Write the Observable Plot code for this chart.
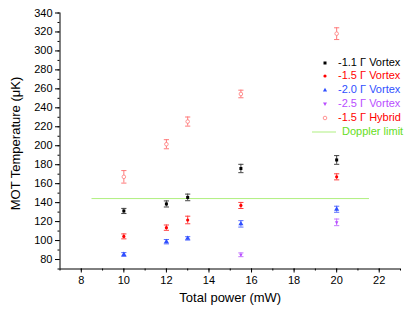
<!DOCTYPE html>
<html>
<head>
<meta charset="utf-8">
<script src="https://cdn.jsdelivr.net/npm/d3@7"></script>
<script src="https://cdn.jsdelivr.net/npm/@observablehq/plot@0.6"></script>
<style>
  html, body { margin: 0; padding: 0; background: #fff; }
  #wrap { position: relative; width: 407px; height: 312px; font-family: "Liberation Sans", Arial, sans-serif; }
  #legend { position: absolute; left: 318px; top: 55.5px; font-size: 11px; line-height: 13.9px; }
  .row { display: flex; align-items: center; height: 13.9px; white-space: nowrap; }
  .sym { width: 20px; height: 13.9px; display: inline-block; }
</style>
</head>
<body>
<div id="wrap"><div id="chart"></div><div id="legend"></div></div>
<script>
// ---- data ----
const powers = [10, 12, 13, 15.5, 20];
const powers25 = [15.5, 20];
const vortex11 = [131.2, 138.6, 145.5, 176, 185];
const vortex11Err = [2.7, 3.2, 3.5, 4.4, 4.6];
const vortex15 = [104.4, 113.6, 121.7, 137, 167.2];
const vortex15Err = [2.6, 2.8, 4, 3.2, 3.2];
const vortex20 = [85.3, 98.8, 102.3, 117.6, 133];
const vortex20Err = [2, 2.3, 1.8, 3.4, 3.2];
const vortex25 = [85, 119.2];
const vortex25Err = [2, 3.5];
const hybrid15 = [167.2, 201.6, 225.5, 254.6, 318.2];
const hybrid15Err = [6.6, 4.8, 4.8, 4, 6.2];
const dopplerLimit = 144.3;
const dopplerPowers = [8.5, 21.5];
const seriesNames = ["-1.1 Γ Vortex", "-1.5 Γ Vortex", "-2.0 Γ Vortex", "-2.5 Γ Vortex", "-1.5 Γ Hybrid"];
const dopplerName = "Doppler limit";
const yTicks = d3.range(80, 341, 20);
const yMinor = d3.range(70, 341, 10);
const xTicks = d3.range(8, 23, 2);
const xMinor = d3.range(7, 24, 1);

// ---- styles ----
const colors = ["#000000", "#ff0000", "#2f4fff", "#b94dff", "#ff0000"];
const barColors = ["#444444", "#ff4040", "#5a70ff", "#c477ff", "#ff7a7a"];
const dopplerColor = "#8ee84a";
const dopplerText = "#66dd22";

const downTriangle = {
  draw(ctx, size) {
    const r = Math.sqrt(size / Math.PI) * 1.2;
    ctx.moveTo(0, r);
    ctx.lineTo(-r * 0.87, -r * 0.5);
    ctx.lineTo(r * 0.87, -r * 0.5);
    ctx.closePath();
  }
};
const cap = {
  draw(ctx, size) {
    const r = Math.sqrt(size / Math.PI);
    ctx.moveTo(-r, 0);
    ctx.lineTo(r, 0);
  }
};

const series = [
  {x: powers, y: vortex11, e: vortex11Err, symbol: "square", r: 1.7, fill: true},
  {x: powers, y: vortex15, e: vortex15Err, symbol: "circle", r: 1.6, fill: true},
  {x: powers, y: vortex20, e: vortex20Err, symbol: "triangle", r: 1.9, fill: true},
  {x: powers25, y: vortex25, e: vortex25Err, symbol: downTriangle, r: 1.7, fill: true},
  {x: powers, y: hybrid15, e: hybrid15Err, symbol: "circle", r: 1.8, fill: false}
];

const marks = [];
series.forEach((s, i) => {
  const rows = s.x.map((x, j) => ({x, y: s.y[j], lo: s.y[j] - s.e[j], hi: s.y[j] + s.e[j]}));
  marks.push(Plot.ruleX(rows, {x: "x", y1: "lo", y2: "hi", stroke: barColors[i], strokeWidth: 1}));
  marks.push(Plot.dot(rows, {x: "x", y: "lo", symbol: cap, r: 2.6, stroke: barColors[i], strokeWidth: 1}));
  marks.push(Plot.dot(rows, {x: "x", y: "hi", symbol: cap, r: 2.6, stroke: barColors[i], strokeWidth: 1}));
  if (s.fill) {
    marks.push(Plot.dot(rows, {x: "x", y: "y", symbol: s.symbol, r: s.r, fill: colors[i], stroke: "none"}));
  } else {
    marks.push(Plot.dot(rows, {x: "x", y: "y", symbol: s.symbol, r: s.r, fill: "white", stroke: "#ff7a7a", strokeWidth: 0.8}));
  }
});

const chart = Plot.plot({
  width: 407,
  height: 312,
  marginLeft: 59.5,
  marginRight: 7,
  marginTop: 12.5,
  marginBottom: 43.5,
  style: {fontFamily: "'Liberation Sans', Arial, sans-serif", fontSize: "11px", color: "#000", background: "#fff"},
  x: {domain: [7, 23]},
  y: {domain: [70, 340]},
  marks: [
    Plot.axisY({ticks: yMinor, tickSize: 2, tickFormat: () => "", label: null}),
    Plot.axisY({ticks: yTicks, tickSize: 4.5, tickPadding: 3, fontSize: 11, label: null}),
    Plot.axisX({ticks: xMinor, tickSize: 2, tickFormat: () => "", label: null}),
    Plot.axisX({ticks: xTicks, tickSize: 4, tickPadding: 3, fontSize: 11, label: null}),
    Plot.ruleX([7], {stroke: "#000", strokeWidth: 1}),
    Plot.ruleY([70], {stroke: "#000", strokeWidth: 1}),
    Plot.line(dopplerPowers.map(x => ({x, y: dopplerLimit})), {x: "x", y: "y", stroke: dopplerColor, strokeWidth: 0.7}),
    ...marks,
    Plot.text(["MOT Temperature (μK)"], {frameAnchor: "left", dx: -44.5, dy: 2.5, rotate: -90, fontSize: 13, fill: "#000", textAnchor: "middle", lineAnchor: "middle"}),
    Plot.text(["Total power (mW)"], {frameAnchor: "bottom", dy: 28.5, fontSize: 13, fill: "#000", textAnchor: "middle", lineAnchor: "middle"})
  ]
});
document.getElementById("chart").appendChild(chart);

// ---- legend ----
const legend = document.getElementById("legend");
const symSvg = [
  '<rect x="5.5" y="5.5" width="3" height="3" fill="#000"/>',
  '<circle cx="7" cy="7" r="1.6" fill="#ff0000"/>',
  '<path d="M7,4.8 L9.1,8.4 L4.9,8.4 Z" fill="#2f4fff"/>',
  '<path d="M7,9 L9,5.6 L5,5.6 Z" fill="#b94dff"/>',
  '<circle cx="7" cy="7" r="1.8" fill="white" stroke="#ff7a7a" stroke-width="0.8"/>'
];
seriesNames.forEach((name, i) => {
  const row = document.createElement("div");
  row.className = "row";
  row.innerHTML = `<svg class="sym" viewBox="0 0 20 13.9" width="20" height="13.9">${symSvg[i]}</svg><span style="color:${colors[i]}">${name}</span>`;
  legend.appendChild(row);
});
const drow = document.createElement("div");
drow.className = "row";
drow.innerHTML = `<svg width="25" height="13.9" style="margin-left:-6px"><line x1="0" x2="24" y1="7" y2="7" stroke="${dopplerColor}" stroke-width="0.7"/></svg><span style="color:${dopplerText};margin-left:5px">${dopplerName}</span>`;
legend.appendChild(drow);
</script>
</body>
</html>
